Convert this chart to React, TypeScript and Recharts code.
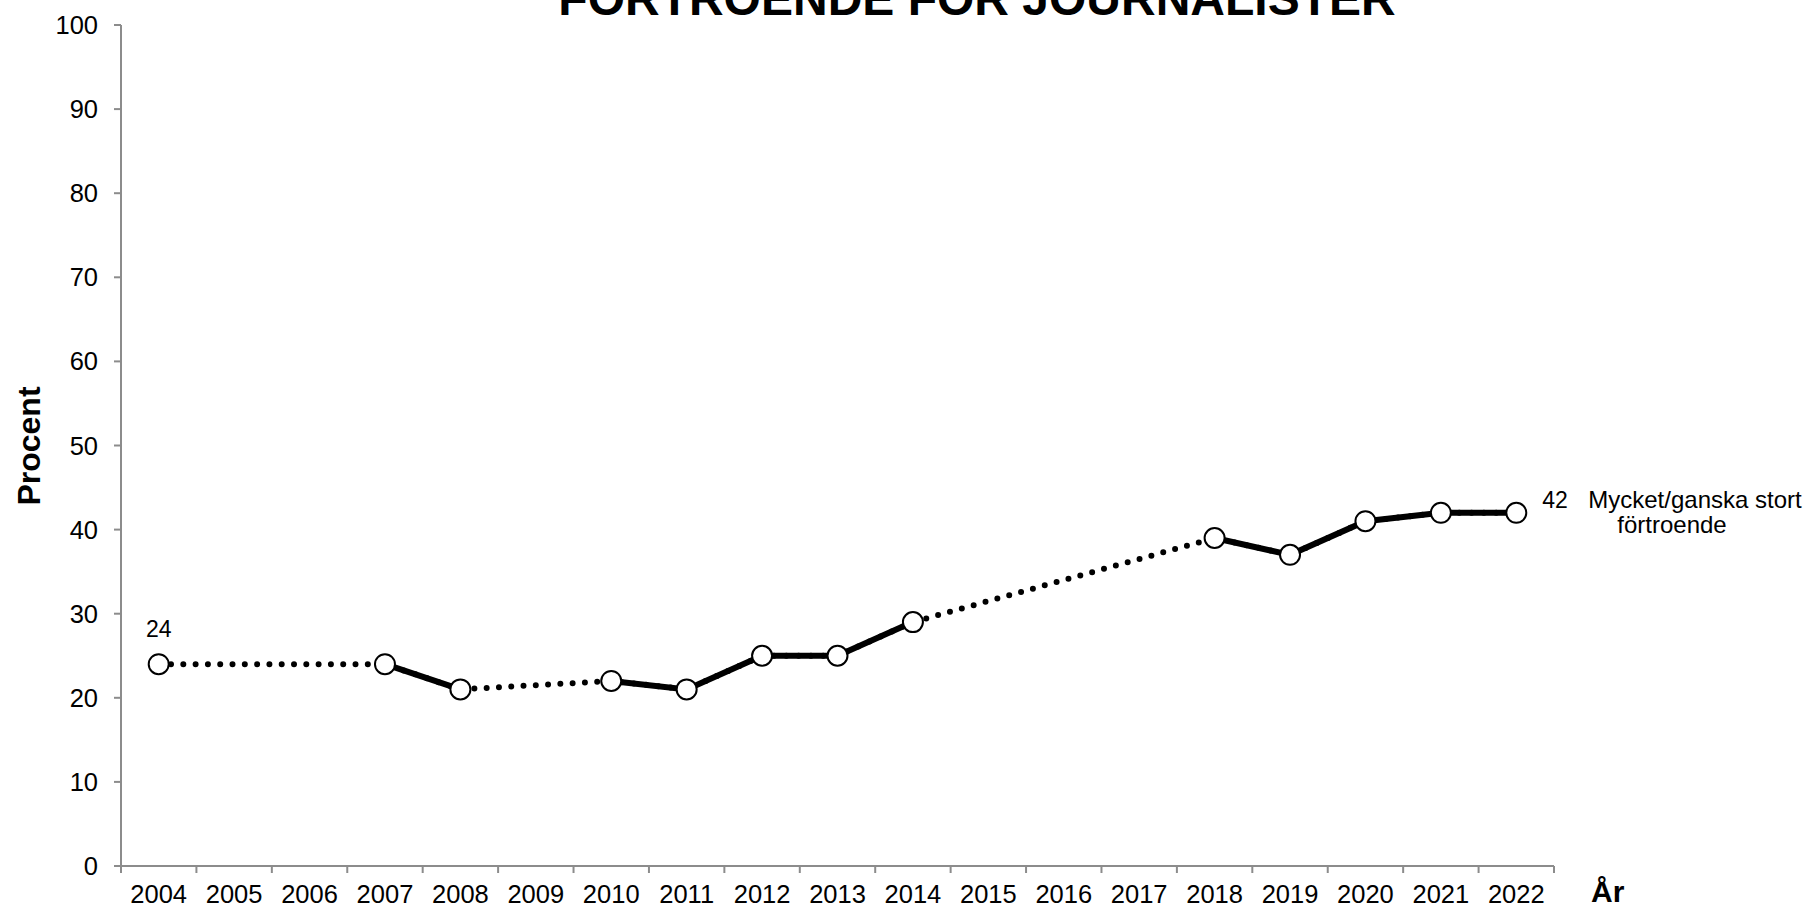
import { LineChart, Line, XAxis, YAxis } from "recharts";

// Survey years on the x axis (every year is a slot, even the missing ones)
const years = [
  2004, 2005, 2006, 2007, 2008, 2009, 2010, 2011, 2012, 2013,
  2014, 2015, 2016, 2017, 2018, 2019, 2020, 2021, 2022,
];

// "Mycket/ganska stort förtroende" in percent, null = no survey that year
const confidence = [
  24, null, null, 24, 21, null, 22, 21, 25, 25,
  29, null, null, null, 39, 37, 41, 42, 42,
];

const yTicks = [0, 10, 20, 30, 40, 50, 60, 70, 80, 90, 100];

const title = "FÖRTROENDE FÖR JOURNALISTER";
const seriesName = ["Mycket/ganska stort", "förtroende"];
const yLabel = "Procent";
const xLabel = "År";

const data = years.map((year, i) => ({ year, value: confidence[i] }));

const W = 1809;
const H = 910;
const margin = { top: 25, right: 255, bottom: 0, left: 0 };
const Y_AXIS_W = 121;
const X_AXIS_H = 44;
const AXIS_Y = H - X_AXIS_H;
const HALF_BAND = (W - margin.right - margin.left - Y_AXIS_W) / years.length / 2;
const GRAY = "#8c8c8c";
const FONT = "'Liberation Sans', Arial, Helvetica, sans-serif";
const LAST = years.length - 1;

// x ticks sit on the category boundaries, the year label in the middle
const YearTick = ({ x, payload }: any) => (
  <g>
    <line x1={x - HALF_BAND} x2={x - HALF_BAND} y1={AXIS_Y} y2={AXIS_Y + 7} stroke={GRAY} strokeWidth={2} />
    {payload.value === years[LAST] && (
      <line x1={x + HALF_BAND} x2={x + HALF_BAND} y1={AXIS_Y} y2={AXIS_Y + 7} stroke={GRAY} strokeWidth={2} />
    )}
    <text x={x} y={903} textAnchor="middle" fontSize={25.5} fill="#000" fontFamily={FONT}>
      {payload.value}
    </text>
  </g>
);

const EndLabel = ({ x, y, index, value }: any) => {
  if (value == null || y == null) return null;
  if (index === 0) {
    return (
      <text x={x} y={y - 27} textAnchor="middle" fontSize={23} fill="#000" fontFamily={FONT}>
        {value}
      </text>
    );
  }
  if (index === LAST) {
    return (
      <g fontFamily={FONT} fill="#000">
        <text x={x + 26} y={y - 5} fontSize={23}>{value}</text>
        <text x={x + 72} y={y - 5} fontSize={24}>{seriesName[0]}</text>
        <text x={x + 101} y={y + 20} fontSize={24}>{seriesName[1]}</text>
      </g>
    );
  }
  return null;
};

export default function App() {
  return (
    <div style={{ position: "absolute", left: 0, top: 0, width: W, height: H, background: "#fff" }}>
      <LineChart width={W} height={H} data={data} margin={margin}>
        <XAxis
          dataKey="year"
          type="number"
          domain={[2003.5, 2022.5]}
          ticks={years}
          height={X_AXIS_H}
          axisLine={{ stroke: GRAY, strokeWidth: 2 }}
          tickLine={false}
          tick={<YearTick />}
          interval={0}
        />
        <YAxis
          domain={[0, 100]}
          ticks={yTicks}
          width={Y_AXIS_W}
          axisLine={{ stroke: GRAY, strokeWidth: 2 }}
          tickLine={{ stroke: GRAY, strokeWidth: 2 }}
          tickSize={7}
          tickMargin={16}
          tick={{ fill: "#000", fontSize: 25.5, fontFamily: FONT }}
          interval={0}
        />
        {/* dotted line bridges the years without data */}
        <Line
          dataKey="value"
          connectNulls
          stroke="#000"
          strokeWidth={6}
          strokeDasharray="0 12.3"
          strokeLinecap="round"
          dot={false}
          activeDot={false}
          isAnimationActive={false}
        />
        <Line
          dataKey="value"
          stroke="#000"
          strokeWidth={6}
          dot={{ r: 10, fill: "#fff", stroke: "#000", strokeWidth: 2 }}
          activeDot={false}
          label={<EndLabel />}
          isAnimationActive={false}
        />
      </LineChart>
      <svg
        width={W}
        height={H}
        style={{ position: "absolute", left: 0, top: 0, pointerEvents: "none" }}
      >
        <text x={977} y={15} textAnchor="middle" fontSize={48} fontWeight="bold" fontFamily={FONT} fill="#000">
          {title}
        </text>
        <text
          x={29}
          y={446}
          transform="rotate(-90 29 446)"
          textAnchor="middle"
          dominantBaseline="central"
          fontSize={32}
          fontWeight="bold"
          fontFamily={FONT}
          fill="#000"
        >
          {yLabel}
        </text>
        <text x={1591} y={902} fontSize={30} fontWeight="bold" fontFamily={FONT} fill="#000">
          {xLabel}
        </text>
      </svg>
    </div>
  );
}
